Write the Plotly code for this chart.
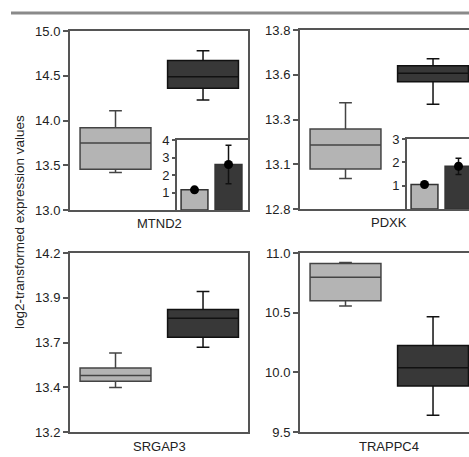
import plotly.graph_objects as go

W, H = 469, 457

genes = ["MTND2", "PDXK", "SRGAP3", "TRAPPC4"]
# box stats per gene: [light, dark]
q1 = {"MTND2": [13.455, 14.36], "PDXK": [13.024, 13.511], "SRGAP3": [13.483, 13.73], "TRAPPC4": [10.60, 9.885]}
med = {"MTND2": [13.75, 14.49], "PDXK": [13.157, 13.558], "SRGAP3": [13.516, 13.835], "TRAPPC4": [10.796, 10.039]}
q3 = {"MTND2": [13.92, 14.67], "PDXK": [13.247, 13.60], "SRGAP3": [13.558, 13.885], "TRAPPC4": [10.913, 10.224]}
lowf = {"MTND2": [13.42, 14.23], "PDXK": [12.97, 13.385], "SRGAP3": [13.449, 13.674], "TRAPPC4": [10.555, 9.64]}
upf = {"MTND2": [14.11, 14.78], "PDXK": [13.394, 13.64], "SRGAP3": [13.642, 13.985], "TRAPPC4": [10.92, 10.465]}

yranges = {"MTND2": [13.0, 15.0], "PDXK": [12.8, 13.8], "SRGAP3": [13.2, 14.2], "TRAPPC4": [9.5, 11.0]}
ytickvals = {
    "MTND2": [13.0, 13.5, 14.0, 14.5, 15.0],
    "PDXK": [12.8, 13.05, 13.3, 13.55, 13.8],
    "SRGAP3": [13.2, 13.45, 13.7, 13.95, 14.2],
    "TRAPPC4": [9.5, 10.0, 10.5, 11.0],
}
yticktext = {
    "MTND2": ["13.0", "13.5", "14.0", "14.5", "15.0"],
    "PDXK": ["12.8", "13.1", "13.3", "13.6", "13.8"],
    "SRGAP3": ["13.2", "13.4", "13.7", "13.9", "14.2"],
    "TRAPPC4": ["9.5", "10.0", "10.5", "11.0"],
}

# inset fold-change bars
inset_genes = ["MTND2", "PDXK"]
inset_vals = {"MTND2": [1.15, 2.6], "PDXK": [1.05, 1.83]}
inset_err = {"MTND2": [0.12, 1.1], "PDXK": [0.05, 0.35]}
inset_range = {"MTND2": [0, 4], "PDXK": [0, 3]}
inset_ticks = {"MTND2": [1, 2, 3, 4], "PDXK": [1, 2, 3]}

ytitle = "log2-transformed expression values"

LIGHT = "#b4b4b4"
DARK = "#383838"
AX = "#555555"
TXT = "#222222"

def px_x(a, b):
    return [a / W, min(b / W, 1.0)]

def px_y(top, bot):
    return [1 - bot / H, 1 - top / H]

panel_dom = {
    "MTND2": (px_x(70, 248), px_y(31, 210)),
    "PDXK": (px_x(300, 478), px_y(30, 209)),
    "SRGAP3": (px_x(70, 248), px_y(253, 432)),
    "TRAPPC4": (px_x(300, 478), px_y(253, 432)),
}
inset_dom = {
    "MTND2": (px_x(177, 248), px_y(140, 210)),
    "PDXK": (px_x(407, 478), px_y(139, 209)),
}

fig = go.Figure()
layout = dict(
    template="none",
    width=W, height=H, margin=dict(l=0, r=0, t=0, b=0, pad=0, autoexpand=False),
    paper_bgcolor="white", plot_bgcolor="white", showlegend=False,
    font=dict(family="Liberation Sans, Arial, sans-serif", size=13, color=TXT),
)

PXU = 178 / 2.034  # px per x unit
annotations = []
idx = 1
for g in genes:
    xd, yd = panel_dom[g]
    xr0 = -0.52
    xr1 = xr0 + (xd[1] - xd[0]) * W / PXU
    xa = "x" if idx == 1 else f"x{idx}"
    ya = "y" if idx == 1 else f"y{idx}"
    for k, (fc, lc) in enumerate([(LIGHT, "#444444"), (DARK, "#111111")]):
        fig.add_trace(go.Box(
            x=[k], q1=[q1[g][k]], median=[med[g][k]], q3=[q3[g][k]],
            lowerfence=[lowf[g][k]], upperfence=[upf[g][k]],
            width=0.81, whiskerwidth=0.18, fillcolor=fc,
            line=dict(color=lc, width=1.5), xaxis=xa, yaxis=ya,
            hoverinfo="skip",
        ))
    right_cut = xd[1] >= 1.0
    layout[f"xaxis{'' if idx == 1 else idx}"] = dict(
        domain=xd, range=[xr0, xr1], showticklabels=False, ticks="",
        showgrid=False, zeroline=False, showline=True, linecolor=AX, linewidth=2,
        mirror=True, anchor=ya, automargin=False,
    )
    layout[f"yaxis{'' if idx == 1 else idx}"] = dict(
        domain=yd, range=yranges[g], tickvals=ytickvals[g], ticktext=yticktext[g],
        ticks="outside", ticklen=5, tickwidth=1.5, tickcolor=AX,
        showgrid=False, zeroline=False, showline=True, linecolor=AX, linewidth=2,
        mirror=(not right_cut), anchor=xa, automargin=False,
        tickfont=dict(size=13, color=TXT),
    )
    annotations.append(dict(
        text=g, x=(xd[0] * W + 89) / W, y=yd[0] - 14 / H, xref="paper", yref="paper",
        showarrow=False, font=dict(size=13, color=TXT), xanchor="center", yanchor="middle",
    ))
    idx += 1

for g in inset_genes:
    xd, yd = inset_dom[g]
    xr0 = -0.515
    xr1 = xr0 + (xd[1] - xd[0]) * W / 34.0
    xa = f"x{idx}"
    ya = f"y{idx}"
    fig.add_trace(go.Bar(
        x=[0, 1], y=inset_vals[g], width=0.79,
        marker=dict(color=[LIGHT, DARK], line=dict(color="#333333", width=1.5)),
        xaxis=xa, yaxis=ya, hoverinfo="skip",
    ))
    fig.add_trace(go.Scatter(
        x=[0, 1], y=inset_vals[g], mode="markers",
        marker=dict(color="black", size=9),
        error_y=dict(type="data", array=inset_err[g], color="#111111", thickness=1.5, width=3),
        xaxis=xa, yaxis=ya, hoverinfo="skip",
    ))
    right_cut = xd[1] >= 1.0
    layout[f"xaxis{idx}"] = dict(
        domain=xd, range=[xr0, xr1], showticklabels=False, ticks="",
        showgrid=False, zeroline=False, showline=True, linecolor=AX, linewidth=2,
        mirror=True, anchor=ya, automargin=False,
    )
    layout[f"yaxis{idx}"] = dict(
        domain=yd, range=inset_range[g], tickvals=inset_ticks[g],
        ticktext=[str(v) for v in inset_ticks[g]],
        ticks="outside", ticklen=3, tickwidth=1.5, tickcolor=AX,
        showgrid=False, zeroline=False, showline=True, linecolor=AX, linewidth=2,
        mirror=(not right_cut), anchor=xa, automargin=False,
        tickfont=dict(size=13, color=TXT),
    )
    idx += 1

annotations.append(dict(
    text=ytitle, textangle=-90, x=19 / W, y=1 - 222 / H, xref="paper", yref="paper",
    showarrow=False, font=dict(size=13.5, color=TXT), xanchor="center", yanchor="middle",
))
layout["annotations"] = annotations
layout["shapes"] = [dict(
    type="line", xref="paper", yref="paper", x0=11 / W, x1=1.0, y0=1 - 13 / H, y1=1 - 13 / H,
    line=dict(color="#8a8a8a", width=3),
)]
fig.update_layout(**layout)
fig.write_html("out.html")
